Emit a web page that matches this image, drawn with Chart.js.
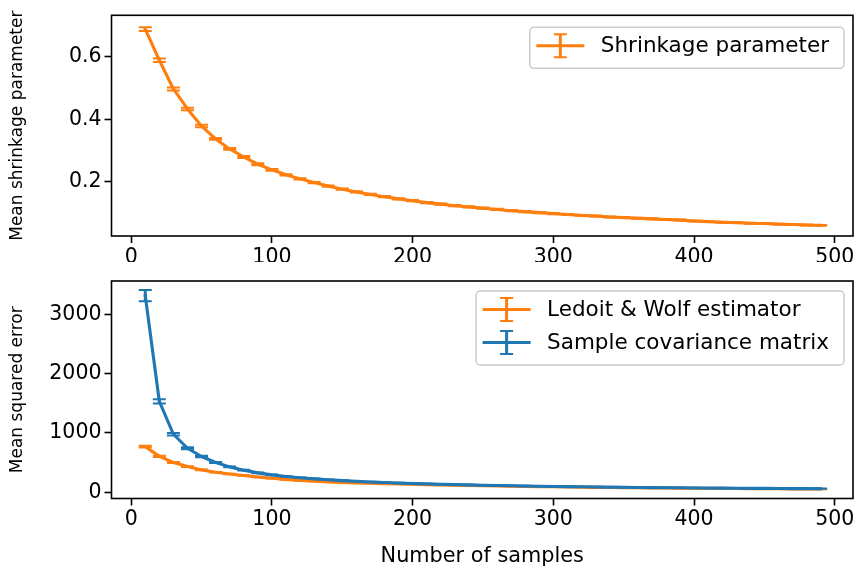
<!DOCTYPE html>
<html><head><meta charset="utf-8">
<script src="https://cdn.jsdelivr.net/npm/chart.js@4.4.0/dist/chart.umd.min.js"></script>
<style>
html,body{margin:0;padding:0;background:#fff;}
#wrap{position:relative;width:857px;height:569px;overflow:hidden;background:#fff;}
canvas{position:absolute;left:0;top:0;}
</style></head><body>
<div id="wrap">
<canvas id="c1" width="857" height="569"></canvas>
<canvas id="c2" width="857" height="569"></canvas>
</div>
<script>
// ---------------- data ----------------
const nSamples = [10,20,30,40,50,60,70,80,90,100,110,120,130,140,150,160,170,180,190,200,210,220,230,240,250,260,270,280,290,300,310,320,330,340,350,360,370,380,390,400,410,420,430,440,450,460,470,480,490];

const shrinkage = [0.689,0.589,0.497,0.433,0.378,0.337,0.305,0.279,0.256,0.238,
  0.222,0.209,0.197,0.186,0.176,0.167,0.159,0.152,0.145,0.139,
  0.133,0.128,0.123,0.119,0.115,0.111,0.107,0.104,0.101,0.098,
  0.095,0.092,0.090,0.087,0.085,0.083,0.081,0.079,0.077,0.074,
  0.072,0.070,0.069,0.067,0.066,0.064,0.063,0.061,0.060];
const shrinkageErr = [0.006,0.006,0.005,0.004,0.004,0.003,0.003,0.003,0.003,0.003,
  0.002,0.002,0.002,0.002,0.002,0.002,0.002,0.002,0.002,0.002,
  0.002,0.002,0.002,0.002,0.002,0.002,0.002,0.002,0.002,0.002,
  0.0015,0.0015,0.0015,0.0015,0.0015,0.0015,0.0015,0.0015,0.0015,0.0015,
  0.0015,0.0015,0.0015,0.0015,0.0015,0.0015,0.0015,0.0015,0.0015];

const lwMse = [770,605,502,434,377,338,308,282,258,237,
  215,198,186,176,167,159,152,146,140,135,
  129,124,119,114,110,106,102,98,95,92,
  89,86,83,81,78,76,74,72,70,68,
  66,65,63,62,60,59,57,56,55];
const lwErr = [15,10,8,6,5,4,4,3,3,3,
  3,3,2,2,2,2,2,2,2,2,
  2,2,2,2,2,2,2,2,2,2,
  2,2,2,2,2,2,2,2,2,2,
  2,2,2,2,2,2,2,2,2];

const sampleMse = [3313,1531,978,742,603,502,428,373,327,293,
  266,244,226,210,197,185,174,165,156,149,
  142,135,129,124,119,114,110,106,102,98,
  95,92,89,86,84,81,79,77,75,73,
  71,70,68,66,65,64,62,61,60];
const sampleErr = [95,36,22,15,11,9,7,6,5,5,
  4,4,4,4,4,3,3,3,3,3,
  3,3,3,3,3,3,3,3,3,3,
  2,2,2,2,2,2,2,2,2,2,
  2,2,2,2,2,2,2,2,2];

const xTicks = [0,100,200,300,400,500];
const yTicksTop = [0.2,0.4,0.6];
const yTicksBottom = [0,1000,2000,3000];

const labelShrink = 'Shrinkage parameter';
const labelLW = 'Ledoit & Wolf estimator';
const labelSample = 'Sample covariance matrix';

// ---------------- style ----------------
const FONT = "'DejaVu Sans', sans-serif";
const ORANGE = '#ff7f0e', BLUE = '#1f77b4';
const TICK_FONT = 20.5, LEGEND_FONT = 21.5, YLABEL_FONT = 17, XLABEL_FONT = 20.8;

const errorBarPlugin = {
  id: 'errbars',
  afterDatasetDraw(chart, args) {
    const ds = chart.data.datasets[args.index];
    if (!ds.errors) return;
    const xs = chart.scales.x, ys = chart.scales.y, ctx = chart.ctx;
    ctx.save();
    ctx.strokeStyle = ds.borderColor;
    ds.data.forEach((p, i) => {
      const e = ds.errors[i];
      const px = xs.getPixelForValue(p.x);
      const yT = ys.getPixelForValue(p.y + e), yB = ys.getPixelForValue(p.y - e);
      ctx.lineWidth = 3; ctx.lineCap = 'butt';
      ctx.beginPath(); ctx.moveTo(px, yT); ctx.lineTo(px, yB); ctx.stroke();
      ctx.lineWidth = 2;
      ctx.beginPath();
      ctx.moveTo(px - 6.5, yT); ctx.lineTo(px + 6.5, yT);
      ctx.moveTo(px - 6.5, yB); ctx.lineTo(px + 6.5, yB);
      ctx.stroke();
    });
    ctx.restore();
  }
};

const framePlugin = {
  id: 'frame',
  afterDraw(chart, args, opts) {
    const ctx = chart.ctx, a = chart.chartArea;
    ctx.save();
    ctx.strokeStyle = '#000'; ctx.lineWidth = 1.6;
    ctx.strokeRect(a.left, a.top, a.right - a.left, a.bottom - a.top);
    // legend
    const entries = opts.entries || [];
    ctx.font = LEGEND_FONT + 'px ' + FONT;
    let tw = 0; entries.forEach(e => tw = Math.max(tw, ctx.measureText(e.label).width));
    const w = tw + 86, h = 8 + 33 * entries.length;
    const right = a.right - 9, top = a.top + opts.top;
    const left = right - w;
    ctx.fillStyle = 'rgba(255,255,255,0.8)';
    ctx.strokeStyle = '#cccccc'; ctx.lineWidth = 1.5;
    ctx.beginPath(); ctx.roundRect(left, top, w, h, 4); ctx.fill(); ctx.stroke();
    entries.forEach((e, i) => {
      const cy = top + 18.5 + 33 * i;
      const x0 = left + 6.5, x1 = x0 + 48, xc = (x0 + x1) / 2;
      ctx.strokeStyle = e.color; ctx.lineCap = 'butt';
      ctx.lineWidth = 3;
      ctx.beginPath(); ctx.moveTo(x0, cy); ctx.lineTo(x1, cy); ctx.stroke();
      ctx.beginPath(); ctx.moveTo(xc, cy - 11.5); ctx.lineTo(xc, cy + 11.5); ctx.stroke();
      ctx.lineWidth = 2;
      ctx.beginPath();
      ctx.moveTo(xc - 6.5, cy - 11.5); ctx.lineTo(xc + 6.5, cy - 11.5);
      ctx.moveTo(xc - 6.5, cy + 11.5); ctx.lineTo(xc + 6.5, cy + 11.5);
      ctx.stroke();
      ctx.fillStyle = '#000'; ctx.textBaseline = 'middle'; ctx.textAlign = 'left';
      ctx.fillText(e.label, x1 + 16.5, cy + 1);
    });
    ctx.restore();
  }
};

function mkDataset(label, ys, errs, color, order) {
  return {
    label, errors: errs, order,
    data: nSamples.map((n, i) => ({ x: n, y: ys[i] })),
    borderColor: color, backgroundColor: color,
    borderWidth: 3.1, pointRadius: 0, tension: 0,
    borderJoinStyle: 'round', borderCapStyle: 'square', fill: false
  };
}

function xScale(height, title) {
  return {
    type: 'linear', min: -14, max: 513,
    afterBuildTicks: s => { s.ticks = xTicks.map(v => ({ value: v })); },
    afterFit: s => { s.height = height; },
    border: { display: false },
    grid: { display: true, drawOnChartArea: false, drawTicks: true, tickLength: 7, tickWidth: 1.6, tickColor: '#000', color: '#000' },
    ticks: { color: '#000', font: { family: FONT, size: TICK_FONT }, padding: 2, maxRotation: 0, autoSkip: false,
      callback: v => String(v) },
    title: title ? { display: true, text: title, color: '#000', font: { family: FONT, size: XLABEL_FONT }, padding: { top: 0, bottom: 0 } } : { display: false }
  };
}
function yScale(min, max, ticks, fmt, title) {
  return {
    type: 'linear', min, max,
    afterBuildTicks: s => { s.ticks = ticks.map(v => ({ value: v })); },
    afterFit: s => { s.width = 111.5; },
    border: { display: false },
    grid: { display: true, drawOnChartArea: false, drawTicks: true, tickLength: 7, tickWidth: 1.6, tickColor: '#000', color: '#000' },
    ticks: { color: '#000', font: { family: FONT, size: TICK_FONT }, padding: 3, autoSkip: false, callback: fmt },
    title: { display: true, text: title, color: '#000', font: { family: FONT, size: YLABEL_FONT }, padding: { top: 7, bottom: 0 } }
  };
}

const common = {
  responsive: false, maintainAspectRatio: false, animation: false,
  plugins: { legend: { display: false }, tooltip: { enabled: false } }
};

new Chart(document.getElementById('c1'), {
  type: 'line',
  data: { datasets: [ mkDataset(labelShrink, shrinkage, shrinkageErr, ORANGE, 0) ] },
  options: Object.assign({}, common, {
    layout: { padding: { top: 15, right: 4, left: 0, bottom: 569 - 236 - 26 } },
    scales: {
      x: xScale(26, null),
      y: yScale(0.026, 0.733, yTicksTop, v => v.toFixed(1), 'Mean shrinkage parameter')
    },
    plugins: Object.assign({}, common.plugins, { frame: { top: 12, entries: [ { label: labelShrink, color: ORANGE } ] } })
  }),
  plugins: [errorBarPlugin, framePlugin]
});

new Chart(document.getElementById('c2'), {
  type: 'line',
  data: { datasets: [
    mkDataset(labelLW, lwMse, lwErr, ORANGE, 1),
    mkDataset(labelSample, sampleMse, sampleErr, BLUE, 0)
  ] },
  options: Object.assign({}, common, {
    layout: { padding: { top: 281, right: 4, left: 0, bottom: 0 } },
    scales: {
      x: xScale(70.5, 'Number of samples'),
      y: yScale(-105, 3561, yTicksBottom, v => String(v), 'Mean squared error')
    },
    plugins: Object.assign({}, common.plugins, { frame: { top: 10, entries: [ { label: labelLW, color: ORANGE }, { label: labelSample, color: BLUE } ] } })
  }),
  plugins: [errorBarPlugin, framePlugin]
});
</script>
</body></html>
